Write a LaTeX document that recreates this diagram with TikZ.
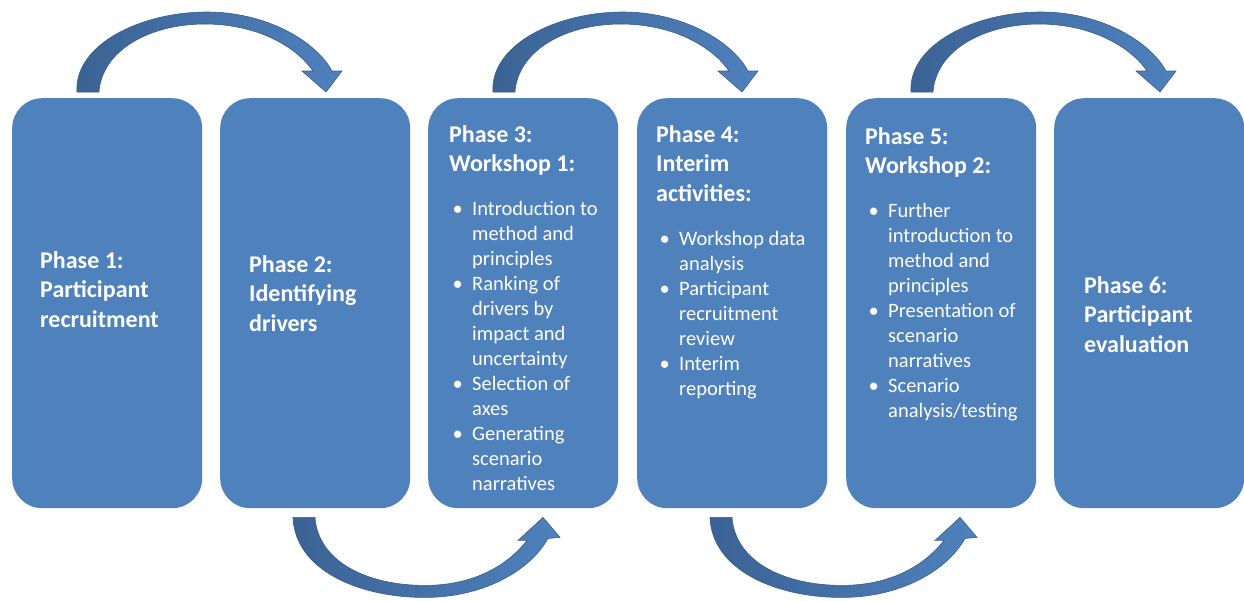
\documentclass[tikz,border=0pt]{standalone}
\usepackage{fontspec}
\setmainfont{Carlito}
\definecolor{boxblue}{HTML}{4F81BD}
\definecolor{arrdark}{HTML}{3B6294}
\definecolor{arrlight}{HTML}{4F81BD}
\definecolor{arredge}{HTML}{385D8A}
\newcommand\hd{\fontsize{24}{29.5}\selectfont\bfseries}
\newcommand\bd{\fontsize{20.5}{25}\selectfont}
\newcommand\bitem[1]{\hspace*{3.5pt}\makebox[19.5pt][l]{\textbullet}#1\par}
\newcommand\contline[1]{\hspace*{23pt}#1\par}
\tikzset{
  phasebox/.style={fill=boxblue, draw=none, rounded corners=30pt, minimum width=190pt, minimum height=410pt, inner sep=0pt},
  txt/.style={text=white, inner sep=0pt, anchor=base west},
  arrowfill/.style={left color=arrdark, right color=arrlight, draw=arredge, line width=0.6pt},
  toparrowpath/.style={insert path={(65,-6) .. controls (62,-53) and (128,-86) .. (195,-86)
     .. controls (253,-86) and (303,-58) .. (320,-27) -- (330,-27) -- (314,-6) -- (290,-27) -- (301,-27)
     .. controls (283,-53) and (243,-74) .. (193,-74) .. controls (138,-74) and (90,-48) .. (87,-6) -- cycle}},
  botarrowpath/.style={insert path={(73,9) .. controls (75,62) and (140,90) .. (208,89)
     .. controls (265,88) and (310,62) .. (328,30) -- (340,29) -- (323,9) -- (298,32) -- (307,32)
     .. controls (285,60) and (250,77) .. (205,77) .. controls (145,77) and (98,52) .. (95,9) -- cycle}}
}
\begin{document}
\begin{tikzpicture}[x=1pt,y=-1pt]
\useasboundingbox (0,0) rectangle (1244,600);
% boxes
\node[phasebox, anchor=north west] (b1) at (12,98) {};
\node[phasebox, anchor=north west] (b2) at (220,98) {};
\node[phasebox, anchor=north west] (b3) at (428,98) {};
\node[phasebox, anchor=north west] (b4) at (637,98) {};
\node[phasebox, anchor=north west] (b5) at (846,98) {};
\node[phasebox, anchor=north west] (b6) at (1054,98) {};
% arrows
\begin{scope}[shift={(b1.north west)}]\shade[arrowfill, toparrowpath];\end{scope}
\begin{scope}[shift={(b3.north west)}]\shade[arrowfill, toparrowpath];\end{scope}
\begin{scope}[shift={(b5.north west)}]\shade[arrowfill, toparrowpath];\end{scope}
\begin{scope}[shift={(b2.south west)}]\shade[arrowfill, botarrowpath];\end{scope}
\begin{scope}[shift={(b4.south west)}]\shade[arrowfill, botarrowpath];\end{scope}
% texts
\node[txt] (t1) at (40,268) {\parbox[t]{165pt}{\raggedright\hd Phase 1:\par Participant\par recruitment}};
\node[txt] (t2) at (249,272) {\parbox[t]{165pt}{\raggedright\hd Phase 2:\par Identifying\par drivers}};
\node[txt] (t3) at (449,142) {\parbox[t]{170pt}{\raggedright{\hd Phase 3:\par Workshop 1:\par}\vspace{19pt}{\bd
  \bitem{Introduction to}\contline{method and}\contline{principles}%
  \bitem{Ranking of}\contline{drivers by}\contline{impact and}\contline{uncertainty}%
  \bitem{Selection of}\contline{axes}%
  \bitem{Generating}\contline{scenario}\contline{narratives}}}};
\node[txt] (t4) at (656,142) {\parbox[t]{170pt}{\raggedright{\hd Phase 4:\par Interim\par activities:\par}\vspace{19pt}{\bd
  \bitem{Workshop data}\contline{analysis}%
  \bitem{Participant}\contline{recruitment}\contline{review}%
  \bitem{Interim}\contline{reporting}}}};
\node[txt] (t5) at (865,144) {\parbox[t]{170pt}{\raggedright{\hd Phase 5:\par Workshop 2:\par}\vspace{19pt}{\bd
  \bitem{Further}\contline{introduction to}\contline{method and}\contline{principles}%
  \bitem{Presentation of}\contline{scenario}\contline{narratives}%
  \bitem{Scenario}\contline{analysis/testing}}}};
\node[txt] (t6) at (1084,293) {\parbox[t]{150pt}{\raggedright\hd Phase 6:\par Participant\par evaluation}};
\end{tikzpicture}
\end{document}
